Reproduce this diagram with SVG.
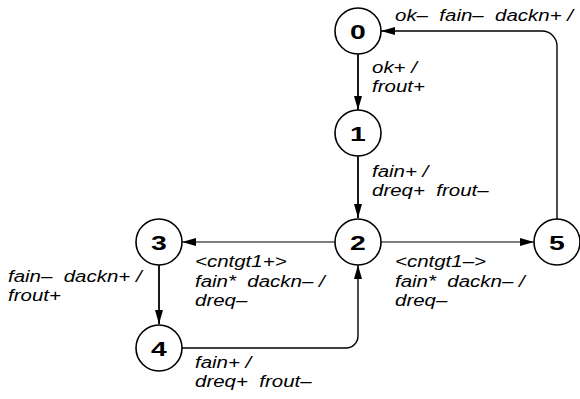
<svg xmlns="http://www.w3.org/2000/svg" width="580" height="399" viewBox="0 0 580 399">
  <style>
    .node circle { fill: #fff; stroke: #000; stroke-width: 1.6; }
    .node text { font-family: "Liberation Sans", Arial, sans-serif; font-weight: bold; font-size: 21px; text-anchor: middle; fill: #000; }
    .edge { fill: none; stroke: #000; }
    .v { stroke-width: 1.8; }
    .h { stroke-width: 1.2; }
    .lbl { font-family: "Liberation Sans", Arial, sans-serif; font-style: italic; font-size: 16px; fill: #000; white-space: pre; }
  </style>
  <defs>
    <marker id="arrow" viewBox="0 0 14 8" refX="14" refY="4" markerWidth="14" markerHeight="8" markerUnits="userSpaceOnUse" orient="auto">
      <path d="M0,0 L14,4 L0,8 z" fill="#000"/>
    </marker>
  </defs>

  <rect width="580" height="399" fill="#fff"/>

  <!-- transitions -->
  <g id="connectors">
    <line class="edge v" x1="358" y1="54" x2="358" y2="110" marker-end="url(#arrow)"/>
    <line class="edge v" x1="358" y1="156" x2="358" y2="218" marker-end="url(#arrow)"/>
    <line class="edge h" x1="335" y1="242" x2="182" y2="242" marker-end="url(#arrow)"/>
    <line class="edge h" x1="381" y1="242" x2="534" y2="242" marker-end="url(#arrow)"/>
    <line class="edge v" x1="159" y1="265" x2="159" y2="324" marker-end="url(#arrow)"/>
    <path class="edge" stroke-width="1.4" d="M182,348 H346 A12,12 0 0 0 358,336 V265" marker-end="url(#arrow)"/>
    <path class="edge" stroke-width="1.4" d="M557,219 V46 A15,15 0 0 0 542,31 H381" marker-end="url(#arrow)"/>

    <text class="lbl" transform="translate(395,21) scale(1.28,1)">ok–  fain–  dackn+ /</text>
    <text class="lbl" transform="translate(372,73) scale(1.28,1)">ok+ /</text>
    <text class="lbl" transform="translate(372,92) scale(1.28,1)">frout+</text>
    <text class="lbl" transform="translate(372,177) scale(1.28,1)">fain+ /</text>
    <text class="lbl" transform="translate(372,196) scale(1.28,1)">dreq+  frout–</text>
    <text class="lbl" transform="translate(195,267) scale(1.28,1)">&lt;cntgt1+&gt;</text>
    <text class="lbl" transform="translate(195,287) scale(1.28,1)">fain*  dackn– /</text>
    <text class="lbl" transform="translate(195,306) scale(1.28,1)">dreq–</text>
    <text class="lbl" transform="translate(395,267) scale(1.28,1)">&lt;cntgt1–&gt;</text>
    <text class="lbl" transform="translate(395,287) scale(1.28,1)">fain*  dackn– /</text>
    <text class="lbl" transform="translate(395,306) scale(1.28,1)">dreq–</text>
    <text class="lbl" transform="translate(8,282) scale(1.28,1)">fain–  dackn+ /</text>
    <text class="lbl" transform="translate(8,301) scale(1.28,1)">frout+</text>
    <text class="lbl" transform="translate(195,368) scale(1.28,1)">fain+ /</text>
    <text class="lbl" transform="translate(195,387) scale(1.28,1)">dreq+  frout–</text>
  </g>

  <!-- states -->
  <g id="node0" class="node">
    <circle cx="358" cy="31" r="23"/>
    <text transform="translate(358,38.5) scale(1.35,1)">0</text>
  </g>
  <g id="node1" class="node">
    <circle cx="358" cy="133" r="23"/>
    <text transform="translate(358,140.5) scale(1.35,1)">1</text>
  </g>
  <g id="node2" class="node">
    <circle cx="358" cy="242" r="23"/>
    <text transform="translate(358,249.5) scale(1.35,1)">2</text>
  </g>
  <g id="node3" class="node">
    <circle cx="159" cy="242" r="23"/>
    <text transform="translate(159,249.5) scale(1.35,1)">3</text>
  </g>
  <g id="node4" class="node">
    <circle cx="159" cy="348" r="23"/>
    <text transform="translate(159,355.5) scale(1.35,1)">4</text>
  </g>
  <g id="node5" class="node">
    <circle cx="557" cy="242" r="23"/>
    <text transform="translate(557,249.5) scale(1.35,1)">5</text>
  </g>
</svg>
